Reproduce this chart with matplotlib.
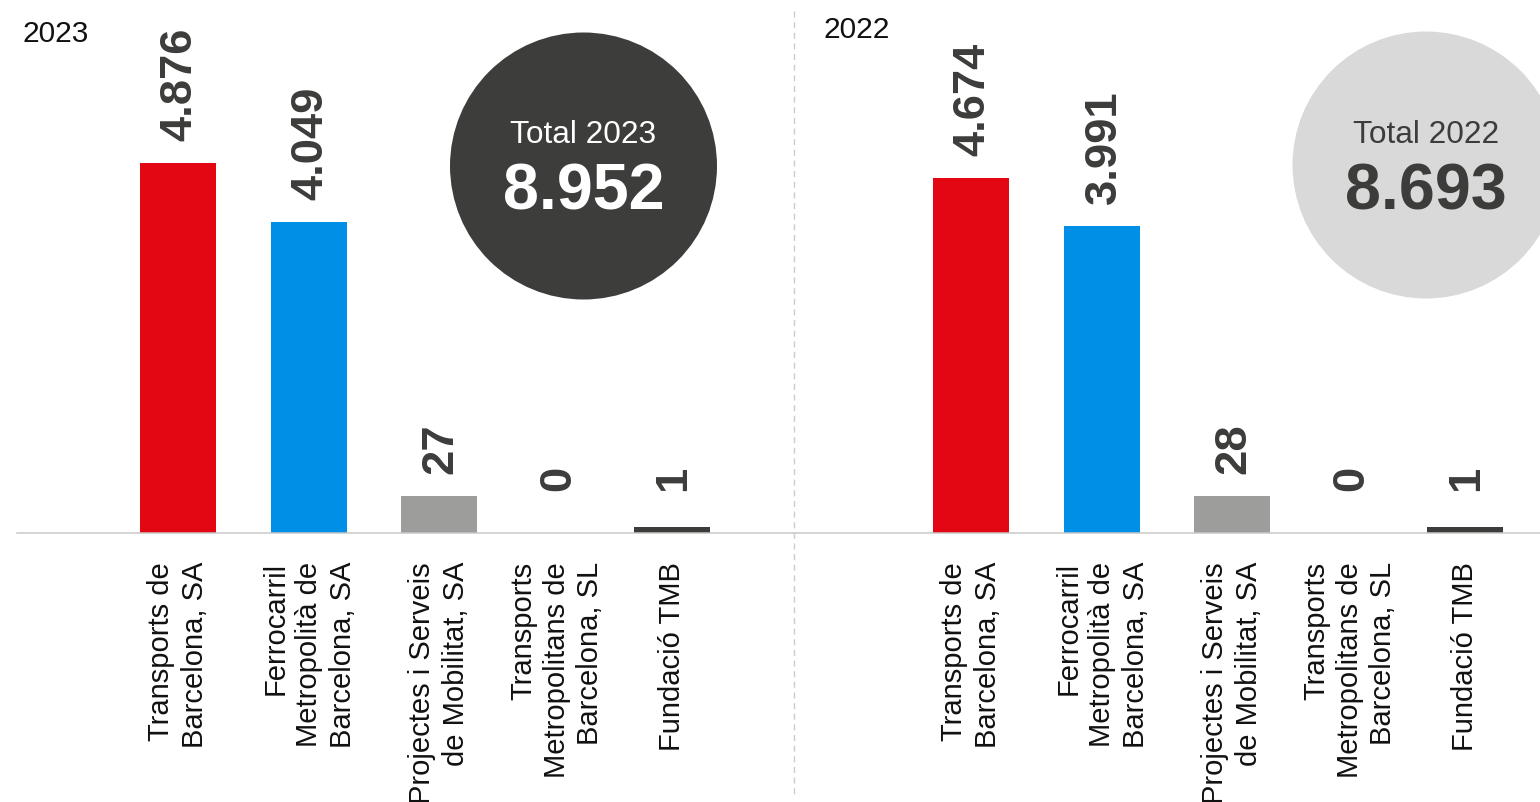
import matplotlib
matplotlib.use("Agg")
import matplotlib.pyplot as plt
from matplotlib.patches import Ellipse
from matplotlib.lines import Line2D
import numpy as np

# ---------------- data ----------------
categories = [
    "Transports de\nBarcelona, SA",
    "Ferrocarril\nMetropolità de\nBarcelona, SA",
    "Projectes i Serveis\nde Mobilitat, SA",
    "Transports\nMetropolitans de\nBarcelona, SL",
    "Fundació TMB",
]
values_2023 = [4876, 4049, 27, 0, 1]
values_2022 = [4674, 3991, 28, 0, 1]
# bar heights as drawn in the picture (small companies shown with a visible minimum)
shown_2023 = [4876, 4099, 488, 0, 79]
shown_2022 = [4674, 4042, 488, 0, 79]
total_2023 = "8.952"
total_2022 = "8.693"
years = ["2023", "2022"]
bar_colors = ["#e30613", "#008fe6", "#9d9d9c", "#3c3c3b", "#3c3c3b"]

# ---------------- layout ----------------
W, H = 1540, 802
plt.rcParams["font.family"] = ["Liberation Sans", "DejaVu Sans"]
fig = plt.figure(figsize=(W / 100, H / 100), dpi=100)

px_per_unit = 0.0759          # pixels per value unit
slot_px = 130.5               # pixels per category slot
base_px = 533                 # baseline y (from top)
slots = np.array([0, 1.004, 2.0, 2.904, 3.785])
bar_w = 76 / slot_px
pt = 0.72                     # points per pixel at dpi 100


def fmt(v):
    return f"{v:,}".replace(",", ".")


def panel(left_px, right_px, first_center_px, values, shown, year, year_xy):
    ax = fig.add_axes([left_px / W, 1 - base_px / H, (right_px - left_px) / W, base_px / H])
    ax.set_xlim(-(first_center_px - left_px) / slot_px, (right_px - first_center_px) / slot_px)
    ax.set_ylim(0, base_px / px_per_unit)
    ax.bar(slots, shown, width=bar_w, color=bar_colors, zorder=2)
    for s in ["top", "left", "right"]:
        ax.spines[s].set_visible(False)
    ax.spines["bottom"].set_color("#c8c8c8")
    ax.spines["bottom"].set_linewidth(1.5 * pt)
    ax.set_yticks([])
    ax.set_xticks(slots)
    ax.set_xticklabels(categories, rotation=90, ha="center", va="top",
                       multialignment="right", fontsize=21, color="#111111",
                       linespacing=1.25)
    ax.tick_params(axis="x", length=0, pad=29 * pt)
    floor = 20 / px_per_unit
    for x, v, h in zip(slots, values, shown):
        ax.annotate(fmt(v), xy=(x, max(h, floor)), xytext=(2 * pt, 22 * pt),
                    textcoords="offset points", rotation=90, ha="center",
                    va="bottom", fontsize=32.7, fontweight="bold", color="#3c3c3b")
    fig.text(year_xy[0] / W, 1 - year_xy[1] / H, year, fontsize=21.5,
             color="#111111", va="baseline", ha="left")
    return ax


panel(17, 794, 178, values_2023, shown_2023, years[0], (22, 42))
panel(794, 1540, 971, values_2022, shown_2022, years[1], (823, 38))

# divider
fig.add_artist(Line2D([794 / W, 794 / W], [1 - 11 / H, 1 - 797 / H],
                      transform=fig.transFigure, color="#cccccc",
                      lw=1.4 * pt, linestyle=(0, (4.3, 3.3))))

# total circles
r = 133.5
for cx, cy, fc, tc, label, total in [
    (583.5, 166, "#3d3d3c", "white", "Total " + years[0], total_2023),
    (1426, 165, "#d9d9d9", "#3c3c3b", "Total " + years[1], total_2022),
]:
    fig.add_artist(Ellipse((cx / W, 1 - cy / H), 2 * r / W, 2 * r / H,
                           transform=fig.transFigure, facecolor=fc,
                           edgecolor="none", zorder=5))
    fig.text(cx / W, 1 - 143 / H, label, fontsize=22.8, color=tc, ha="center",
             va="baseline", zorder=6)
    fig.text(cx / W, 1 - 209 / H, total, fontsize=46.5, fontweight="bold",
             color=tc, ha="center", va="baseline", zorder=6)

fig.savefig("out.png", dpi=100)
